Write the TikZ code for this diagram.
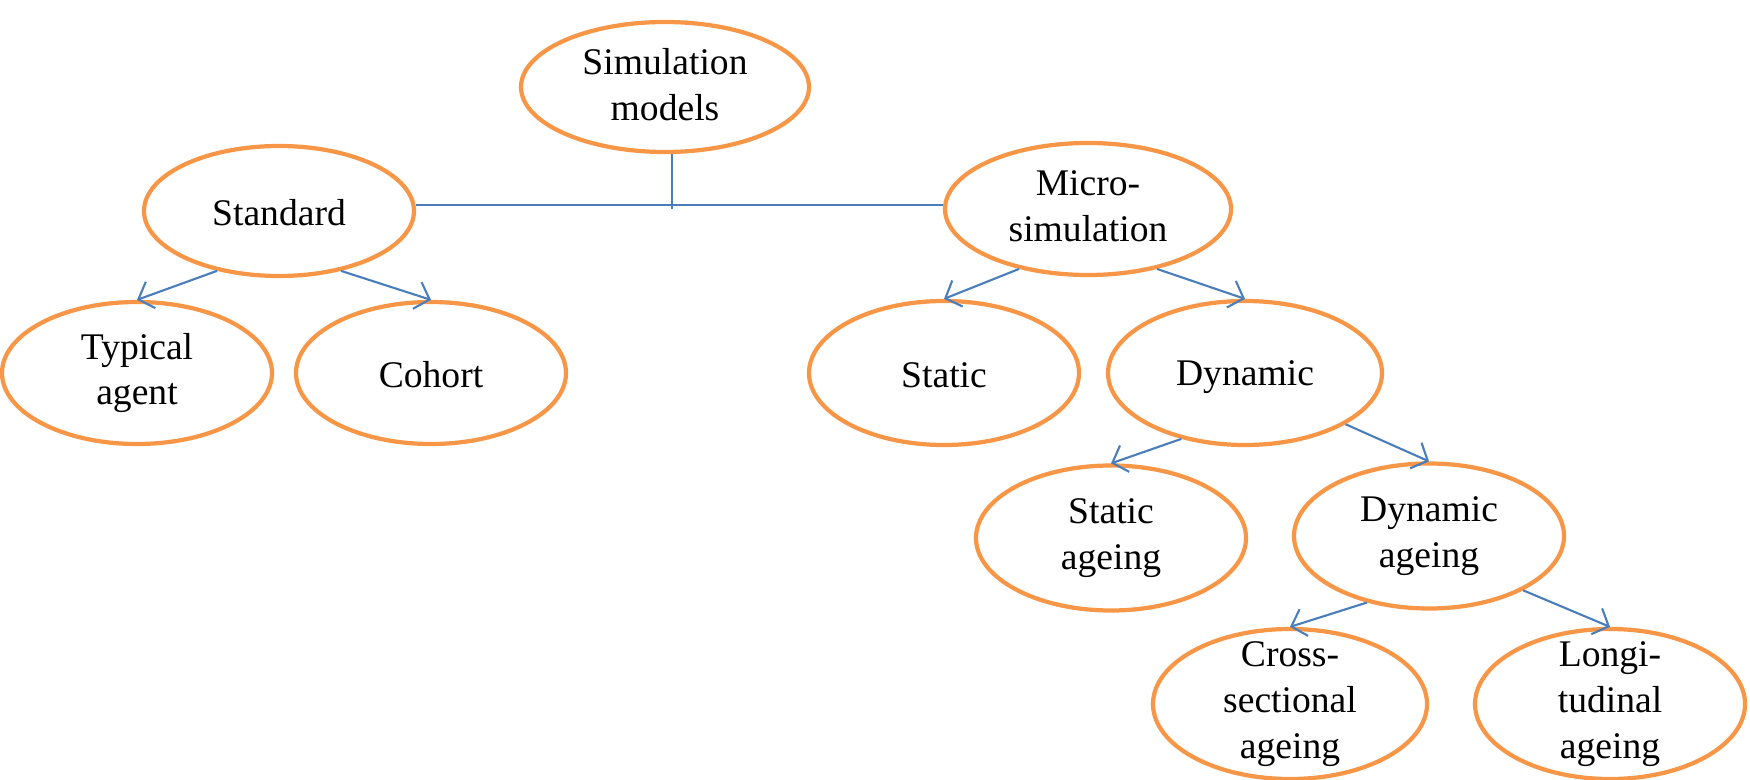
\documentclass[tikz,border=0pt]{standalone}
\usepackage{fontspec}
\setmainfont{Liberation Serif}
\usetikzlibrary{shapes.geometric,arrows.meta}
\definecolor{ovalorange}{HTML}{F79646}
\definecolor{linkblue}{HTML}{4A7EBB}
\newcommand{\ovalstrut}{\rule[-1.6pt]{0pt}{11.2pt}}
\begin{document}
\begin{tikzpicture}[
  oval/.style={ellipse, draw=ovalorange, line width=1.2pt, align=center,
    inner sep=0pt, minimum width=2.70cm, minimum height=1.42cm,
    font=\fontsize{10.7}{13}\selectfont, execute at begin node=\ovalstrut},
  tall/.style={inner ysep=-0.2cm},
  link/.style={draw=linkblue, line width=0.6pt},
  >={Straight Barb[length=1.3mm,width=2.8mm]}]
  \useasboundingbox (0,0) rectangle (17.5,-7.8);
  \node[oval, minimum width=2.88cm, minimum height=1.30cm] (sim) at (6.65,-0.87) {Simulation\\models};
  \node[oval, minimum height=1.30cm] (std) at (2.79,-2.11) {Standard};
  \node[oval, minimum width=2.86cm, minimum height=1.32cm] (micro) at (10.88,-2.09) {Micro-\\simulation};
  \node[oval] (typ) at (1.37,-3.73) {Typical\\agent};
  \node[oval] (coh) at (4.31,-3.73) {Cohort};
  \node[oval, minimum height=1.44cm] (stat) at (9.44,-3.73) {Static};
  \node[oval, minimum width=2.74cm, minimum height=1.44cm] (dyn) at (12.45,-3.73) {Dynamic};
  \node[oval, minimum height=1.45cm] (sage) at (11.11,-5.38) {Static\\ageing};
  \node[oval, minimum height=1.45cm] (dage) at (14.29,-5.36) {Dynamic\\ageing};
  \node[oval, tall, minimum width=2.74cm, minimum height=1.50cm] (cross) at (12.90,-7.04) {Cross-\\sectional\\ageing};
  \node[oval, tall, minimum height=1.50cm] (longi) at (16.10,-7.04) {Longi-\\tudinal\\ageing};
  % top connector
  \draw [link] (std.east |- 0,-2.05) -- (micro.west |- 0,-2.05);
  \draw [link] ([xshift=0.07cm]sim.south) -- ([xshift=0.07cm]sim.south |- 0,-2.09);
  % arrows
  \draw [link, ->] (std.224) -- (typ.north);
  \draw [link, ->] (std.316) -- (coh.north);
  \draw [link, ->] (micro.221) -- (stat.north);
  \draw [link, ->] (micro.319) -- (dyn.north);
  \draw [link, ->] (dyn.226) -- (sage.north);
  \draw [link, ->] (dyn.333) -- (dage.north);
  \draw [link, ->] (dage.227) -- (cross.north);
  \draw [link, ->] (dage.330) -- (longi.north);
\end{tikzpicture}
\end{document}
